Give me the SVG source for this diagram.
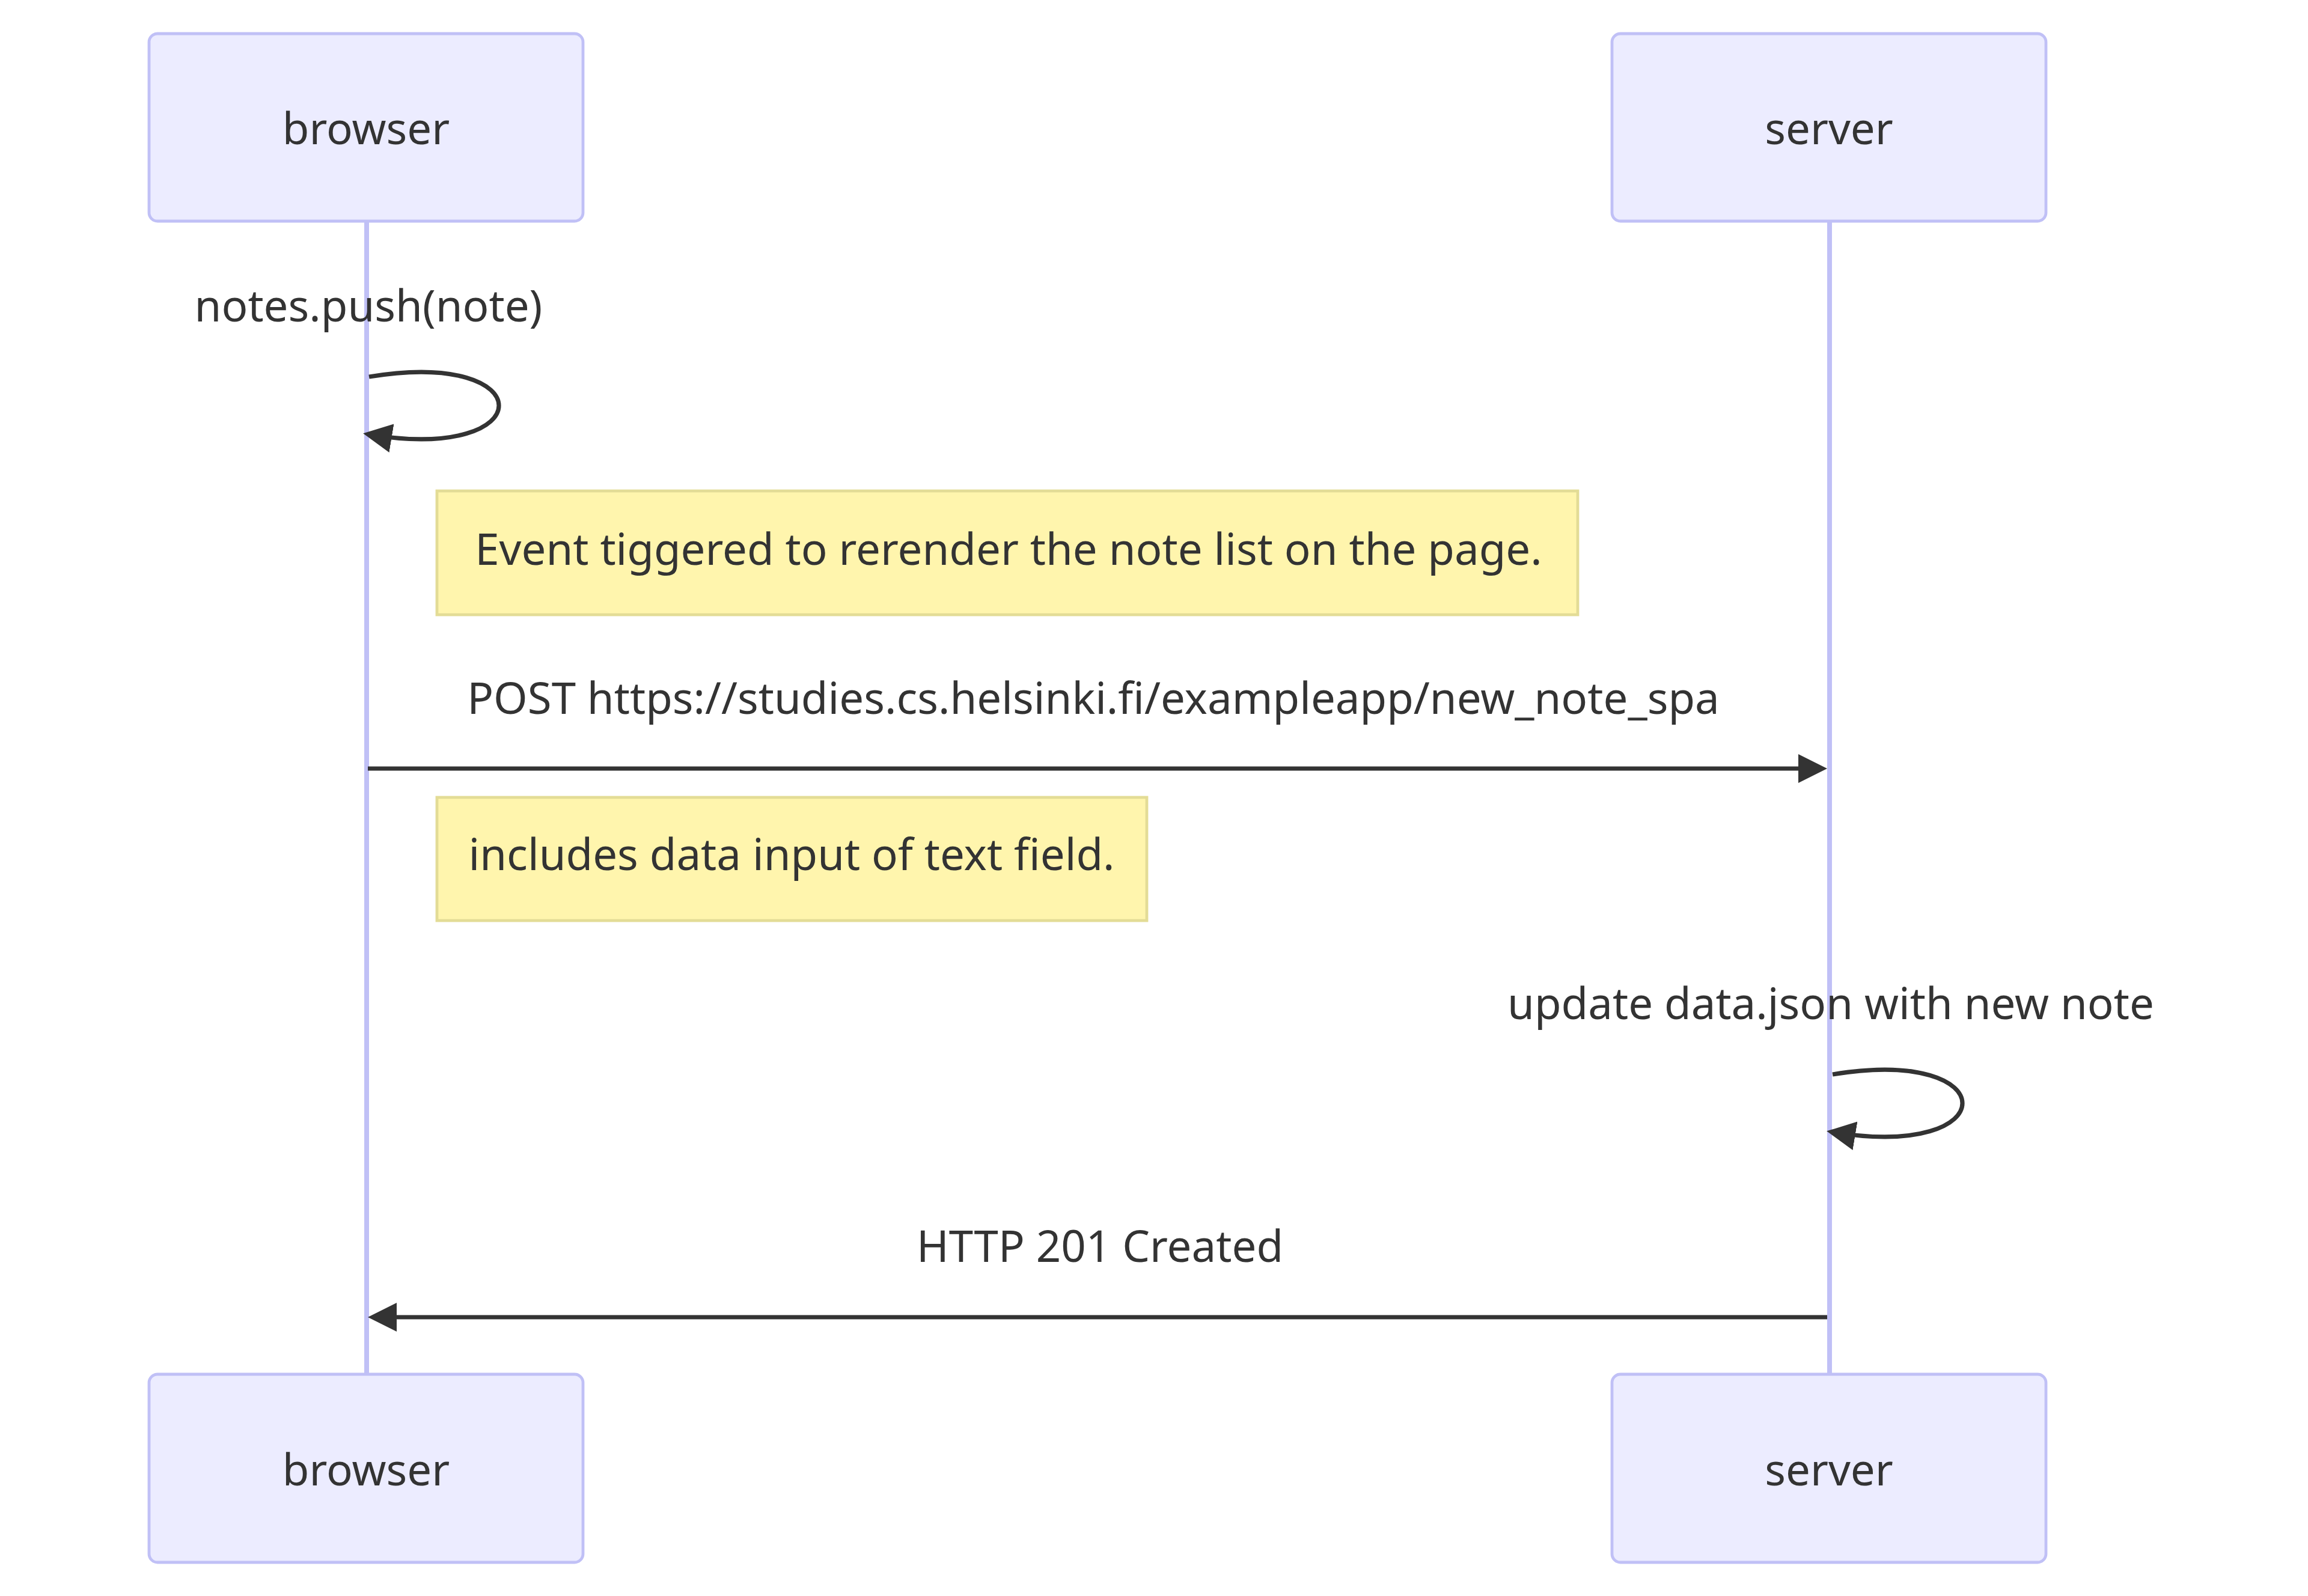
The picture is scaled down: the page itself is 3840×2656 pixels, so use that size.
<svg xmlns="http://www.w3.org/2000/svg" width="3840" height="2656" viewBox="0 0 3840 2656">
<style>
.actor{fill:#ECECFF;stroke:#C0C0F6;stroke-width:4.8}
.lifeline{stroke:#C0C0F6;stroke-width:8}
.note{fill:#FFF5AD;stroke:#E3DC96;stroke-width:4.8}
.msg{stroke:#333;stroke-width:7.2;fill:none}
text{font-family:"Noto Sans","Open Sans","Liberation Sans",sans-serif;font-size:72.6px;fill:#333;text-anchor:middle}
</style>
<defs>
<marker id="arrowhead" markerUnits="userSpaceOnUse" markerWidth="60" markerHeight="60" refX="38" refY="24" orient="auto">
<path d="M0,0 L48,24 L0,48 z" fill="#333"/>
</marker>
</defs>
<rect width="3840" height="2656" fill="#fff"/>
<g id="lifelines">
<line class="lifeline" x1="610" y1="368" x2="610" y2="2287"/>
<line class="lifeline" x1="3044" y1="368" x2="3044" y2="2287"/>
</g>
<g id="actor-browser-top"><rect class="actor" x="248" y="56" width="722" height="312" rx="14" ry="14"/><text x="609" y="240">browser</text></g>
<g id="actor-server-top"><rect class="actor" x="2682" y="56" width="722" height="312" rx="14" ry="14"/><text x="3043" y="240">server</text></g>
<g id="actor-browser-bottom"><rect class="actor" x="248" y="2287" width="722" height="313" rx="14" ry="14"/><text x="609" y="2472">browser</text></g>
<g id="actor-server-bottom"><rect class="actor" x="2682" y="2287" width="722" height="313" rx="14" ry="14"/><text x="3043" y="2472">server</text></g>
<g id="note-rerender"><rect class="note" x="727" y="817" width="1898" height="206"/><text x="1678" y="940">Event tiggered to rerender the note list on the page.</text></g>
<g id="note-includes"><rect class="note" x="727" y="1327" width="1181" height="205"/><text x="1317" y="1448">includes data input of text field.</text></g>
<g id="connectors">
<text x="613" y="535">notes.push(note)</text>
<path class="msg" d="M614,627 C902,579 902,771 614,723" marker-end="url(#arrowhead)"/>
<text x="1819" y="1188">POST https://studies.cs.helsinki.fi/exampleapp/new_note_spa</text>
<line class="msg" x1="612" y1="1279" x2="3030" y2="1279" marker-end="url(#arrowhead)"/>
<text x="3046" y="1696">update data.json with new note</text>
<path class="msg" d="M3049,1788 C3337,1740 3337,1932 3049,1884" marker-end="url(#arrowhead)"/>
<text x="1830" y="2100">HTTP 201 Created</text>
<line class="msg" x1="3040" y1="2192" x2="622" y2="2192" marker-end="url(#arrowhead)"/>
</g>
</svg>
